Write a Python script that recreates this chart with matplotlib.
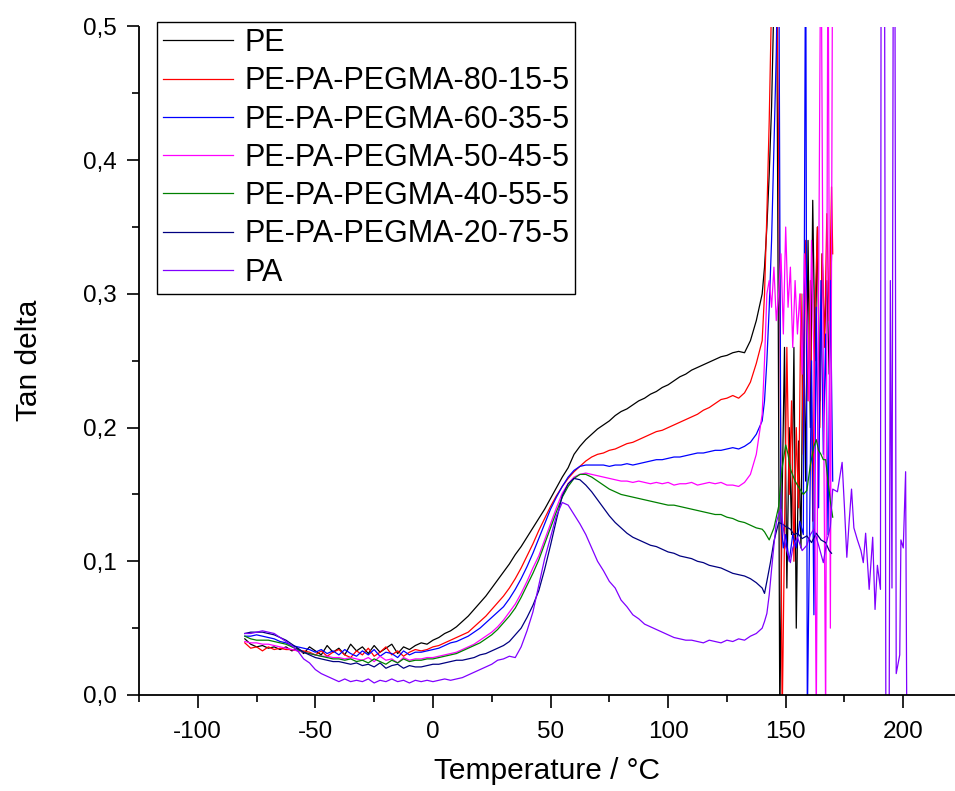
import matplotlib
matplotlib.use("Agg")
import matplotlib.pyplot as plt
import numpy as np
from matplotlib.ticker import MultipleLocator, FuncFormatter

plt.rcParams["font.family"] = ["Liberation Sans", "DejaVu Sans"]
plt.rcParams["axes.unicode_minus"] = False

# common temperature grid for the smooth part (-80 ... 137.5 degC)
T_MAIN = np.arange(-80, 138, 2.5)

PE_MAIN = [
    0.042, 0.038, 0.036, 0.037, 0.035, 0.036, 0.034, 0.036, 0.033, 0.035,
    0.031, 0.036, 0.033, 0.030, 0.037, 0.032, 0.035, 0.030, 0.038, 0.033,
    0.036, 0.031, 0.037, 0.032, 0.035, 0.038, 0.031, 0.036, 0.034, 0.037,
    0.039, 0.038, 0.041, 0.043, 0.046, 0.048, 0.051, 0.055, 0.059, 0.064,
    0.069, 0.074, 0.080, 0.086, 0.092, 0.098, 0.105, 0.111, 0.118, 0.125,
    0.132, 0.139, 0.147, 0.155, 0.163, 0.170, 0.180, 0.186, 0.191, 0.195,
    0.199, 0.202, 0.205, 0.209, 0.212, 0.214, 0.217, 0.220, 0.222, 0.225,
    0.227, 0.230, 0.232, 0.235, 0.238, 0.240, 0.243, 0.245, 0.247, 0.249,
    0.251, 0.253, 0.254, 0.256, 0.257, 0.256, 0.265, 0.280,
]
PE_TAIL_T = [140, 141, 142, 143, 144, 145, 146, 146.8, 147.5, 148.5, 149.5, 150.5,
             151.5, 152.5, 153.5, 154.5, 155.5, 156.5, 157.5, 158.5, 159.5, 160.5,
             161.5, 162.5, 163.5, 164.5, 165.5, 166.5, 167.5, 168.5, 169.5]
PE_TAIL = [0.300, 0.32, 0.35, 0.39, 0.44, 0.52, 0.6, 0.3, -0.02, 0.15, 0.26, 0.08,
           0.20, 0.12, 0.26, 0.05, 0.19, 0.11, 0.30, 0.16, 0.34, 0.20,
           0.37, 0.25, 0.35, 0.22, 0.33, 0.27, 0.31, 0.24, 0.33]

R80_MAIN = [
    0.039, 0.035, 0.036, 0.033, 0.036, 0.034, 0.035, 0.034, 0.034, 0.033,
    0.033, 0.032, 0.030, 0.033, 0.029, 0.032, 0.034, 0.030, 0.028, 0.033,
    0.030, 0.035, 0.029, 0.032, 0.036, 0.030, 0.033, 0.029, 0.032, 0.034,
    0.033, 0.034, 0.036, 0.037, 0.039, 0.041, 0.043, 0.045, 0.047, 0.051,
    0.055, 0.059, 0.064, 0.069, 0.074, 0.080, 0.087, 0.095, 0.104, 0.113,
    0.123, 0.132, 0.141, 0.149, 0.156, 0.162, 0.167, 0.171, 0.175, 0.178,
    0.180, 0.181, 0.183, 0.184, 0.186, 0.188, 0.189, 0.191, 0.193, 0.195,
    0.197, 0.198, 0.200, 0.202, 0.204, 0.206, 0.208, 0.210, 0.213, 0.215,
    0.218, 0.221, 0.222, 0.224, 0.222, 0.226, 0.234, 0.248,
]
R80_TAIL_T = [140, 141, 142, 143, 144, 146, 147.5, 148.5, 149.5, 150.5, 151.5, 152.5,
              153.5, 154.5, 155.5, 156.5, 157.5, 158.5, 159.5, 160.5, 161.5, 162.5,
              163.5, 164.5, 165.5, 166.5, 167.5, 168.5, 169.5, 170]
R80_TAIL = [0.265, 0.30, 0.36, 0.43, 0.52, 0.6, 0.3, -0.02, 0.12, 0.26, 0.15, 0.22,
            0.10, 0.20, 0.14, 0.30, 0.18, 0.34, 0.22, 0.31, 0.13, 0.29,
            0.35, 0.20, 0.33, 0.26, 0.36, 0.28, 0.38, 0.33]

R60_MAIN = [
    0.044, 0.044, 0.045, 0.044, 0.043, 0.042, 0.040, 0.039, 0.037, 0.036,
    0.035, 0.034, 0.032, 0.034, 0.031, 0.033, 0.030, 0.034, 0.031, 0.029,
    0.033, 0.030, 0.034, 0.029, 0.032, 0.031, 0.028, 0.033, 0.030, 0.032,
    0.032, 0.033, 0.034, 0.035, 0.037, 0.039, 0.040, 0.042, 0.044, 0.047,
    0.050, 0.054, 0.058, 0.062, 0.066, 0.072, 0.079, 0.087, 0.096, 0.106,
    0.117, 0.128, 0.139, 0.148, 0.156, 0.163, 0.168, 0.171, 0.172, 0.172,
    0.172, 0.172, 0.171, 0.172, 0.172, 0.173, 0.172, 0.173, 0.174, 0.175,
    0.176, 0.176, 0.177, 0.178, 0.178, 0.179, 0.180, 0.181, 0.181, 0.182,
    0.183, 0.183, 0.184, 0.185, 0.184, 0.186, 0.189, 0.195,
]
R60_TAIL_T = [140, 141, 142, 143, 144, 145, 146, 147, 148, 149, 150, 151.5, 153,
              154.5, 156, 157.5, 158.5, 159.2, 160, 161, 162, 163, 164, 165, 166,
              167, 168, 169, 170]
R60_TAIL = [0.205, 0.22, 0.25, 0.29, 0.34, 0.41, 0.48, 0.6, 0.13, 0.11, 0.12, 0.10, 0.12,
            0.11, 0.13, 0.12, 0.6, -0.02, 0.10, 0.25, 0.06, 0.29, 0.14, 0.31, 0.18,
            0.27, 0.12, 0.31, 0.16]

R50_MAIN = [
    0.040, 0.039, 0.039, 0.038, 0.038, 0.037, 0.036, 0.035, 0.034, 0.033,
    0.032, 0.031, 0.030, 0.029, 0.029, 0.028, 0.028, 0.027, 0.028, 0.027,
    0.026, 0.028, 0.025, 0.029, 0.026, 0.027, 0.024, 0.028, 0.026, 0.027,
    0.027, 0.028, 0.028, 0.029, 0.030, 0.031, 0.032, 0.034, 0.036, 0.038,
    0.041, 0.044, 0.047, 0.051, 0.056, 0.062, 0.068, 0.076, 0.085, 0.095,
    0.104, 0.116, 0.128, 0.140, 0.151, 0.158, 0.163, 0.165, 0.166, 0.165,
    0.164, 0.163, 0.162, 0.161, 0.160, 0.160, 0.159, 0.160, 0.159, 0.158,
    0.159, 0.158, 0.159, 0.157, 0.158, 0.158, 0.159, 0.157, 0.158, 0.159,
    0.158, 0.159, 0.157, 0.157, 0.156, 0.159, 0.165, 0.180,
]
R50_TAIL_T = [140, 141, 142, 143, 144, 145, 146, 147, 148, 149, 150, 151, 152, 153,
              154, 155, 156, 157, 158, 159, 160, 161, 162, 163, 164, 165, 166, 167,
              168, 169, 170]
R50_TAIL = [0.21, 0.25, 0.30, 0.31, 0.29, 0.32, 0.28, 0.30, 0.33, 0.27, 0.35, 0.29, 0.32,
            0.26, 0.31, 0.27, 0.30, 0.24, 0.33, 0.28, 0.22, 0.34, 0.25, -0.02, 0.30,
            0.6, 0.25, -0.02, 0.6, 0.05, 0.6]

R40_MAIN = [
    0.044, 0.042, 0.041, 0.041, 0.041, 0.040, 0.039, 0.038, 0.036, 0.034,
    0.032, 0.031, 0.030, 0.029, 0.028, 0.027, 0.027, 0.026, 0.027, 0.025,
    0.026, 0.024, 0.027, 0.025, 0.023, 0.026, 0.024, 0.027, 0.025, 0.026,
    0.026, 0.027, 0.027, 0.028, 0.029, 0.030, 0.031, 0.033, 0.035, 0.037,
    0.039, 0.042, 0.045, 0.049, 0.054, 0.059, 0.065, 0.073, 0.082, 0.091,
    0.101, 0.113, 0.125, 0.137, 0.148, 0.156, 0.162, 0.165, 0.165, 0.163,
    0.160, 0.157, 0.154, 0.152, 0.150, 0.149, 0.148, 0.147, 0.146, 0.145,
    0.144, 0.143, 0.142, 0.142, 0.141, 0.140, 0.139, 0.138, 0.137, 0.136,
    0.135, 0.135, 0.133, 0.132, 0.130, 0.129, 0.127, 0.125,
]
R40_TAIL_T = [140, 141, 143, 145, 147, 148.5, 150, 151, 152, 154, 156, 157.5, 159,
              160.5, 162, 163, 164, 165, 166, 167, 168, 169, 170]
R40_TAIL = [0.124, 0.122, 0.116, 0.125, 0.141, 0.17, 0.187, 0.18, 0.169, 0.16, 0.154,
            0.15, 0.153, 0.172, 0.186, 0.191, 0.183, 0.180, 0.176, 0.176, 0.16,
            0.145, 0.133]

R20_MAIN = [
    0.046, 0.047, 0.047, 0.047, 0.046, 0.045, 0.043, 0.041, 0.038, 0.035,
    0.032, 0.030, 0.028, 0.027, 0.026, 0.025, 0.025, 0.024, 0.023, 0.024,
    0.022, 0.023, 0.021, 0.024, 0.020, 0.022, 0.023, 0.020, 0.022, 0.021,
    0.021, 0.022, 0.023, 0.023, 0.024, 0.025, 0.026, 0.026, 0.027, 0.028,
    0.030, 0.031, 0.033, 0.035, 0.037, 0.040, 0.045, 0.050, 0.058, 0.067,
    0.078, 0.094, 0.112, 0.131, 0.149, 0.158, 0.162, 0.161, 0.157, 0.152,
    0.146, 0.140, 0.134, 0.129, 0.125, 0.121, 0.118, 0.116, 0.114, 0.112,
    0.111, 0.109, 0.107, 0.106, 0.104, 0.103, 0.102, 0.100, 0.099, 0.097,
    0.096, 0.095, 0.093, 0.091, 0.090, 0.089, 0.087, 0.084,
]
R20_TAIL_T = [140, 141, 142, 143.5, 145, 147, 148.5, 150, 152, 153.5, 155, 157, 159,
              161, 163, 165, 167, 168.5, 169.5]
R20_TAIL = [0.080, 0.076, 0.085, 0.099, 0.115, 0.129, 0.128, 0.126, 0.124, 0.120,
            0.121, 0.117, 0.119, 0.114, 0.121, 0.116, 0.114, 0.108, 0.106]

PA_MAIN = [
    0.046, 0.046, 0.047, 0.048, 0.047, 0.046, 0.043, 0.040, 0.037, 0.033,
    0.027, 0.024, 0.019, 0.016, 0.014, 0.012, 0.010, 0.012, 0.010, 0.011,
    0.010, 0.012, 0.009, 0.011, 0.010, 0.012, 0.010, 0.011, 0.009, 0.011,
    0.010, 0.011, 0.010, 0.011, 0.012, 0.011, 0.012, 0.013, 0.015, 0.017,
    0.019, 0.021, 0.023, 0.026, 0.027, 0.029, 0.028, 0.036, 0.048, 0.062,
    0.082, 0.102, 0.118, 0.134, 0.144, 0.142, 0.135, 0.128, 0.120, 0.110,
    0.100, 0.093, 0.085, 0.080, 0.071, 0.066, 0.060, 0.057, 0.053, 0.051,
    0.049, 0.047, 0.045, 0.043, 0.042, 0.041, 0.041, 0.040, 0.039, 0.041,
    0.040, 0.039, 0.041, 0.040, 0.042, 0.041, 0.044, 0.046,
]
PA_TAIL_T = [140, 141, 142, 143, 144, 145, 146, 147, 148, 149, 150, 151, 152, 153, 155,
             157, 159, 160.5, 162, 164, 166, 167.5, 169, 170, 172, 174, 175, 176, 177,
             178, 179, 180.5, 182, 183, 184, 185.5, 187, 188, 189, 190.3, 190.6, 192,
             192.6, 194, 194.5, 195.2, 195.8, 196.4, 197, 198.5, 199, 200, 201, 201.5]
PA_TAIL = [0.050, 0.055, 0.061, 0.075, 0.094, 0.112, 0.129, 0.135, 0.139, 0.125, 0.111,
           0.105, 0.099, 0.110, 0.118, 0.108, 0.112, 0.120, 0.124, 0.112, 0.099, 0.115,
           0.126, 0.154, 0.152, 0.174, 0.140, 0.103, 0.130, 0.154, 0.125, 0.116, 0.108,
           0.099, 0.121, 0.079, 0.118, 0.064, 0.097, 0.079, 0.6, 0.6, -0.02, -0.02, 0.31,
           0.08, 0.6, 0.6, 0.016, 0.030, 0.116, 0.110, 0.167, -0.02]

LABELS = ["PE", "PE-PA-PEGMA-80-15-5", "PE-PA-PEGMA-60-35-5", "PE-PA-PEGMA-50-45-5",
          "PE-PA-PEGMA-40-55-5", "PE-PA-PEGMA-20-75-5", "PA"]
COLORS = ["#000000", "#FF0000", "#0000FF", "#FF00FF", "#008000", "#000080", "#8000FF"]

SERIES = [
    (PE_MAIN, PE_TAIL_T, PE_TAIL),
    (R80_MAIN, R80_TAIL_T, R80_TAIL),
    (R60_MAIN, R60_TAIL_T, R60_TAIL),
    (R50_MAIN, R50_TAIL_T, R50_TAIL),
    (R40_MAIN, R40_TAIL_T, R40_TAIL),
    (R20_MAIN, R20_TAIL_T, R20_TAIL),
    (PA_MAIN, PA_TAIL_T, PA_TAIL),
]

fig = plt.figure(figsize=(9.55, 7.91), dpi=100)
ax = fig.add_axes([139 / 955, 96 / 791, 816 / 955, 668.5 / 791])

for (main, tail_t, tail), label, color in zip(SERIES, LABELS, COLORS):
    t = np.concatenate([T_MAIN, tail_t])
    v = np.concatenate([main, tail])
    ax.plot(t, v, color=color, lw=0.9, label=label)

ax.set_xlim(-125, 222)
ax.set_ylim(0, 0.5)

for side in ["top", "right"]:
    ax.spines[side].set_visible(False)
for side in ["left", "bottom"]:
    ax.spines[side].set_linewidth(1.3)

ax.xaxis.set_major_locator(MultipleLocator(50))
ax.xaxis.set_minor_locator(MultipleLocator(25))
ax.yaxis.set_major_locator(MultipleLocator(0.1))
ax.yaxis.set_minor_locator(MultipleLocator(0.05))
ax.yaxis.set_major_formatter(FuncFormatter(lambda v, p: f"{v:.1f}".replace(".", ",")))

ax.tick_params(which="major", direction="out", length=9, width=1.2, labelsize=17.5, pad=7)
ax.tick_params(axis="x", which="major", pad=10)
ax.tick_params(which="minor", direction="out", length=5, width=1.2)

ax.set_xlabel("Temperature / °C", fontsize=21.5, labelpad=10)
ax.set_ylabel("Tan delta", fontsize=21.5, labelpad=29)

leg = ax.legend(loc="upper left", bbox_to_anchor=(157 / 955, 1 - 22 / 791),
                bbox_transform=fig.transFigure, borderaxespad=0, fontsize=22,
                handlelength=2.3, handletextpad=0.35, labelspacing=0.27,
                borderpad=0.2, fancybox=False, framealpha=1, edgecolor="black")
leg.get_frame().set_linewidth(1.0)

fig.savefig("out.png", dpi=100)
